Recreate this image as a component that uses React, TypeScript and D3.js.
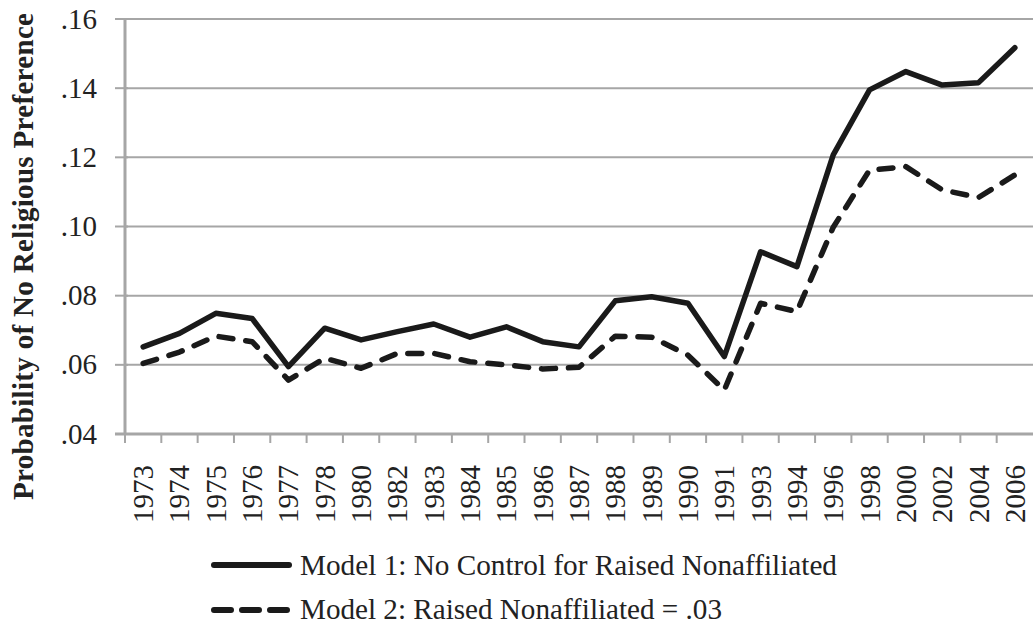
import React from 'react';
import * as d3 from 'd3';

const years = ['1973', '1974', '1975', '1976', '1977', '1978', '1980', '1982', '1983', '1984', '1985', '1986', '1987',
  '1988', '1989', '1990', '1991', '1993', '1994', '1996', '1998', '2000', '2002', '2004', '2006'];

// Model 1: no control for raised nonaffiliated
const model1 = [0.0652, 0.0691, 0.0749, 0.0734, 0.0595, 0.0706, 0.0672, 0.0696, 0.0718, 0.068, 0.071, 0.0667, 0.0652,
  0.0785, 0.0797, 0.0778, 0.0624, 0.0927, 0.0884, 0.1207, 0.1395, 0.1448, 0.1409, 0.1416, 0.1517];

// Model 2: raised nonaffiliated = .03
const model2 = [0.0604, 0.0637, 0.0683, 0.0667, 0.0556, 0.0619, 0.059, 0.0633, 0.0633, 0.0609, 0.06, 0.0588, 0.0593,
  0.0683, 0.068, 0.0628, 0.0527, 0.0778, 0.0754, 0.0998, 0.1163, 0.1173, 0.1106, 0.1084, 0.1149];

const yTicks = [0.04, 0.06, 0.08, 0.1, 0.12, 0.14, 0.16];

const legendLabels = ['Model 1: No Control for Raised Nonaffiliated', 'Model 2: Raised Nonaffiliated = .03'];

const W = 1033;
const H = 625;
const gridColor = '#a6a6a6';
const ink = '#1a1a1a';
const txt = { fontFamily: 'Liberation Serif', fontSize: 29 };

export default function App() {
  const x = d3.scaleBand<string>().domain(years).range([125, 1033]).padding(0);
  const y = d3.scaleLinear().domain([0.04, 0.16]).range([434, 19]);

  const line = d3.line<number>()
    .x((_, i) => (x(years[i]) as number) + x.bandwidth() / 2)
    .y(d => y(d));

  const fmt = (v: number) => d3.format('.2f')(v).replace(/^0/, '');

  return (
    <svg width={W} height={H} style={{ position: 'absolute', left: 0, top: 0, background: '#fff', fontFamily: 'Liberation Serif' }}>
      {/* grid lines + y ticks */}
      <g>
        {yTicks.map(t => (
          <g key={t}>
            {t > 0.04 && <line x1={125} x2={W} y1={y(t)} y2={y(t)} stroke={gridColor} strokeWidth={2} />}
            <line x1={115} x2={128} y1={y(t)} y2={y(t)} stroke={gridColor} strokeWidth={2} />
            <text x={97} y={y(t) + 9.5} textAnchor="end" style={txt} fill="#222">
              {fmt(t)}
            </text>
          </g>
        ))}
      </g>

      {/* axes */}
      <line x1={125} x2={125} y1={19} y2={434} stroke={gridColor} strokeWidth={3} />
      <line x1={115} x2={W} y1={434} y2={434} stroke={gridColor} strokeWidth={3} />
      {years.map(yr => (
        <line key={yr} x1={x(yr) as number} x2={x(yr) as number} y1={434} y2={443} stroke={gridColor} strokeWidth={2} />
      ))}

      {/* x labels */}
      {years.map(yr => {
        const cx = (x(yr) as number) + x.bandwidth() / 2 + 10;
        return (
          <text key={yr} transform={`translate(${cx},465) rotate(-90)`} textAnchor="end" style={txt} fill="#222">
            {yr}
          </text>
        );
      })}

      {/* y title */}
      <text transform="translate(33,500) rotate(-90)" textAnchor="start"
        style={{ ...txt, fontWeight: 'bold' }} fill="#222" textLength={487} lengthAdjust="spacing">
        Probability of No Religious Preference
      </text>

      {/* series */}
      <path d={line(model1) || ''} fill="none" stroke={ink} strokeWidth={5.5} strokeLinejoin="round" strokeLinecap="round" />
      <path d={line(model2) || ''} fill="none" stroke={ink} strokeWidth={5.5} strokeLinejoin="round"
        strokeLinecap="round" strokeDasharray="14 13" />

      {/* legend */}
      <line x1={214} x2={289} y1={565} y2={565} stroke={ink} strokeWidth={6} strokeLinecap="round" />
      <text x={300} y={575} style={txt} fill="#222" textLength={537} lengthAdjust="spacingAndGlyphs">
        {legendLabels[0]}
      </text>
      <line x1={214} x2={289} y1={610} y2={610} stroke={ink} strokeWidth={6} strokeLinecap="round"
        strokeDasharray="17 11" />
      <text x={300} y={619} style={txt} fill="#222" textLength={422} lengthAdjust="spacingAndGlyphs">
        {legendLabels[1]}
      </text>
    </svg>
  );
}
